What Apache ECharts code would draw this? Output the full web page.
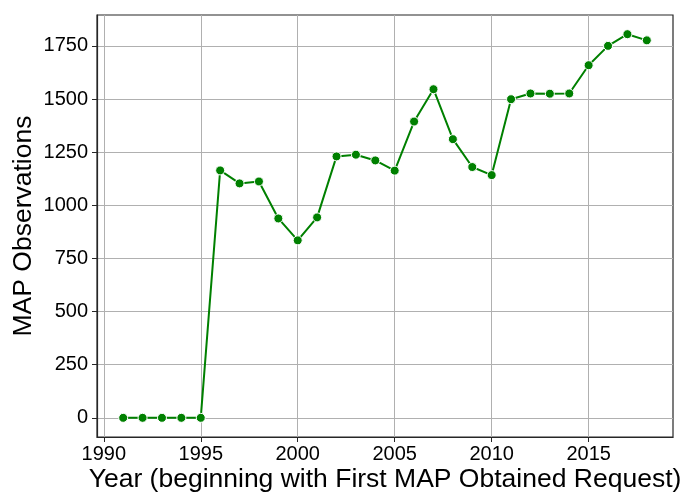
<!DOCTYPE html>
<html>
<head>
<meta charset="utf-8">
<script src="https://cdn.jsdelivr.net/npm/echarts@6/dist/echarts.min.js"></script>
<style>
html,body{margin:0;padding:0;background:#fff;}
#chart{width:681px;height:495px;}
</style>
</head>
<body>
<div id="chart"></div>
<script>
const years = [1991,1992,1993,1994,1995,1996,1997,1998,1999,2000,2001,2002,2003,2004,2005,2006,2007,2008,2009,2010,2011,2012,2013,2014,2015,2016,2017,2018];
const observations = [0,0,0,0,0,1164,1103,1112,938,835,943,1230,1238,1211,1163,1394,1546,1311,1180,1142,1499,1526,1525,1526,1659,1750,1805,1776];
const xTicks = [1990,1995,2000,2005,2010,2015];
const yTicks = [0,250,500,750,1000,1250,1500,1750];
const xTitle = 'Year (beginning with First MAP Obtained Request)';
const yTitle = 'MAP Observations';

const FONT = '"Liberation Sans", Arial, sans-serif';
const chart = echarts.init(document.getElementById('chart'), null, {renderer:'canvas'});
const option = {
  animation: false,
  backgroundColor: '#fff',
  grid: {left: 97, right: 8, top: 15, bottom: 58, show: true, borderColor: '#262626', borderWidth: 1.2,
         backgroundColor: 'transparent', containLabel: false, outerBoundsMode: 'none'},
  xAxis: {
    type: 'value', min: 1989.65, max: 2019.35,
    name: xTitle, nameLocation: 'middle', nameGap: 29, nameMoveOverlap: false,
    nameTextStyle: {fontFamily: FONT, fontSize: 26.5, color: '#000'},
    axisLine: {show: true, onZero: false, lineStyle: {color: '#262626', width: 1.2}},
    axisTick: {show: true, length: 5, lineStyle: {color: '#262626'}, customValues: xTicks},
    axisLabel: {fontFamily: FONT, fontSize: 20, color: '#000', margin: 7, customValues: xTicks, formatter: v => String(v)},
    splitLine: {show: true, lineStyle: {color: '#b0b0b0', width: 1}}
  },
  yAxis: {
    type: 'value', min: -90.25, max: 1895.25,
    name: yTitle, nameLocation: 'middle', nameGap: 60, nameRotate: 90, nameMoveOverlap: false,
    nameTextStyle: {fontFamily: FONT, fontSize: 26.5, color: '#000'},
    axisLine: {show: true, onZero: false, lineStyle: {color: '#262626', width: 1.2}},
    axisTick: {show: true, length: 5, lineStyle: {color: '#262626'}, customValues: yTicks},
    axisLabel: {fontFamily: FONT, fontSize: 20, color: '#000', margin: 9, customValues: yTicks, formatter: v => String(v)},
    splitLine: {show: true, lineStyle: {color: '#b0b0b0', width: 1}}
  },
  series: [{
    type: 'line',
    data: years.map((y, i) => [y, observations[i]]),
    symbol: 'circle', symbolSize: 9,
    lineStyle: {color: '#008000', width: 2},
    itemStyle: {color: '#008000', borderColor: '#fff', borderWidth: 1},
    z: 3
  }]
};
chart.setOption(option);
</script>
</body>
</html>
